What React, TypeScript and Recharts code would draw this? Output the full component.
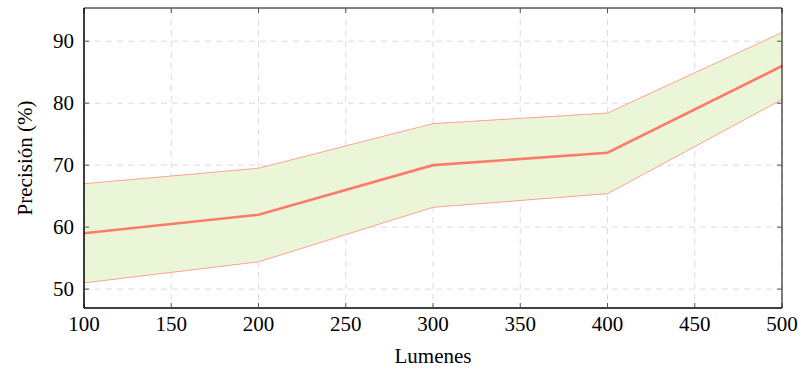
import { Area, CartesianGrid, ComposedChart, Line, XAxis, YAxis } from "recharts";

const lumenes = [100, 200, 300, 400, 500];
const precision = [59, 62, 70, 72, 86];
const upper = [67, 69.5, 76.7, 78.4, 91.4];
const lower = [51, 54.4, 63.2, 65.4, 80.6];

const xTicks = [100, 150, 200, 250, 300, 350, 400, 450, 500];
const yTicks = [50, 60, 70, 80, 90];

const data = lumenes.map((x, i) => ({
  x,
  mean: precision[i],
  upper: upper[i],
  lower: lower[i],
  band: [lower[i], upper[i]],
}));

const font = "Liberation Serif, DejaVu Serif, serif";
const yDomain = [46.95, 95.36];
const textStyle = { fontFamily: font, fontSize: 21, fill: "#000" };

// custom tick text so the serif font is actually used
const XTick = (p: any) => (
  <text x={p.x} y={p.y} dy="0.71em" textAnchor="middle" style={textStyle}>
    {p.payload.value}
  </text>
);
const YTick = (p: any) => (
  <text x={p.x} y={p.y} dy="0.34em" textAnchor="end" style={textStyle}>
    {p.payload.value}
  </text>
);
const NoLabel = () => <g />;

const mirrorTick = { stroke: "#555" };

export default function App() {
  return (
    <div style={{ position: "absolute", left: 0, top: 0, background: "#fff", fontFamily: font }}>
      <ComposedChart
        width={801}
        height={371}
        data={data}
        margin={{ top: 8, right: 19, bottom: 0, left: 0 }}
      >
        <CartesianGrid
          stroke="#dcdcdc"
          strokeDasharray="6 5"
          horizontalValues={yTicks}
          verticalValues={xTicks}
        />
        <XAxis
          xAxisId={0}
          dataKey="x"
          type="number"
          domain={[100, 500]}
          ticks={xTicks}
          tickLine={false}
          axisLine={{ stroke: "#000" }}
          tick={XTick}
          tickMargin={2}
          height={63}
          label={{
            value: "Lumenes",
            position: "insideBottom",
            offset: 8,
            style: textStyle,
          }}
        />
        <XAxis
          xAxisId="bm"
          dataKey="x"
          type="number"
          domain={[100, 500]}
          ticks={xTicks}
          allowDataOverflow
          orientation="bottom"
          mirror
          tick={NoLabel}
          tickSize={5}
          tickLine={mirrorTick}
          axisLine={{ stroke: "#000" }}
          height={1}
        />
        <XAxis
          xAxisId="tm"
          dataKey="x"
          type="number"
          domain={[100, 500]}
          ticks={xTicks}
          allowDataOverflow
          orientation="top"
          mirror
          tick={NoLabel}
          tickSize={5}
          tickLine={mirrorTick}
          axisLine={{ stroke: "#000" }}
          height={1}
        />
        <YAxis
          yAxisId={0}
          type="number"
          domain={yDomain}
          ticks={yTicks}
          allowDataOverflow
          tickLine={false}
          axisLine={{ stroke: "#000" }}
          tick={YTick}
          tickMargin={4}
          width={84}
          label={{
            value: "Precisión (%)",
            angle: -90,
            position: "insideLeft",
            offset: 25,
            style: { ...textStyle, textAnchor: "middle" },
          }}
        />
        <YAxis
          yAxisId="lm"
          type="number"
          domain={yDomain}
          ticks={yTicks}
          allowDataOverflow
          orientation="left"
          mirror
          tick={NoLabel}
          tickSize={5}
          tickLine={mirrorTick}
          axisLine={{ stroke: "#000" }}
          width={1}
        />
        <YAxis
          yAxisId="rm"
          type="number"
          domain={yDomain}
          ticks={yTicks}
          allowDataOverflow
          orientation="right"
          mirror
          tick={NoLabel}
          tickSize={5}
          tickLine={mirrorTick}
          axisLine={{ stroke: "#000" }}
          width={1}
        />
        <Area
          dataKey="band"
          type="linear"
          fill="#ebf6d8"
          fillOpacity={1}
          stroke="none"
          isAnimationActive={false}
        />
        <Line
          dataKey="upper"
          xAxisId="tm"
          yAxisId="rm"
          type="linear"
          stroke="#ffa291"
          strokeWidth={1}
          dot={false}
          isAnimationActive={false}
        />
        <Line
          dataKey="lower"
          xAxisId="bm"
          yAxisId="lm"
          type="linear"
          stroke="#ffa291"
          strokeWidth={1}
          dot={false}
          isAnimationActive={false}
        />
        <Line
          dataKey="mean"
          type="linear"
          stroke="#fd7b6a"
          strokeWidth={2.6}
          dot={false}
          isAnimationActive={false}
        />
      </ComposedChart>
    </div>
  );
}
